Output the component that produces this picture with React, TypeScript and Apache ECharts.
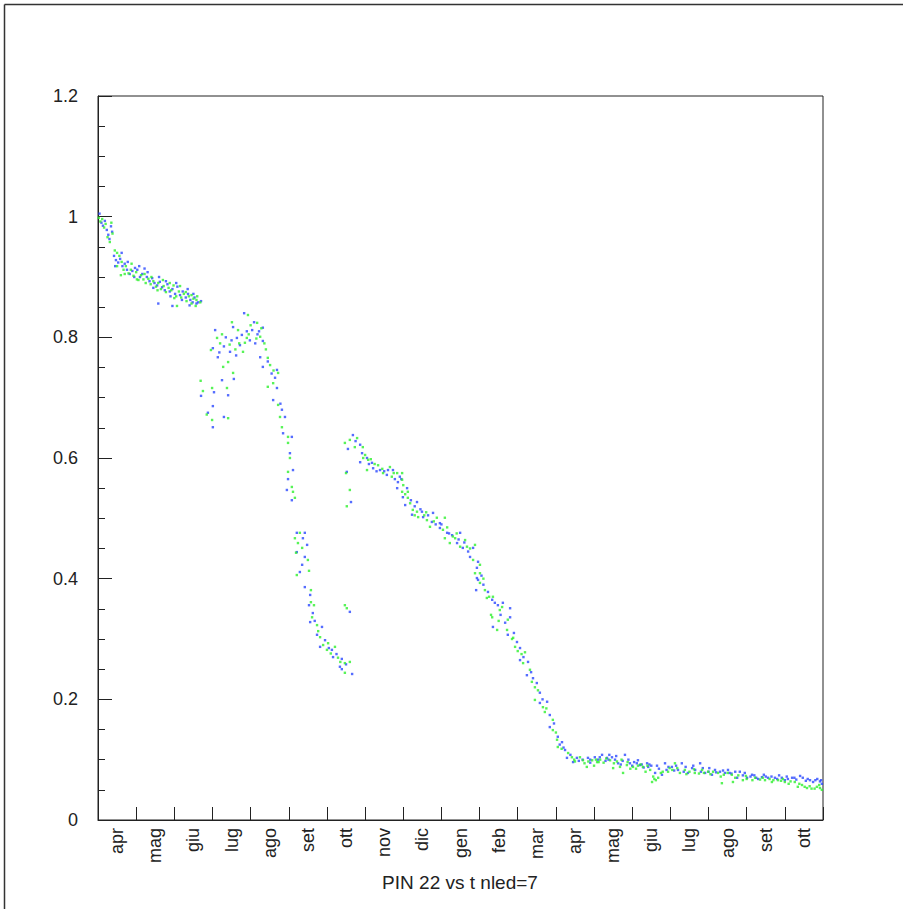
import React, { useEffect, useRef } from "react";
import * as echarts from "echarts";

const months = ["apr", "mag", "giu", "lug", "ago", "set", "ott", "nov", "dic", "gen", "feb", "mar", "apr", "mag", "giu", "lug", "ago", "set", "ott"];
const title = "PIN 22 vs t nled=7";

// [month offset from 1 Apr, normalized value]
const blueA = [[0.04,1.005],[0.09,0.99],[0.13,0.985],[0.18,0.993],[0.23,0.978],[0.27,0.97],[0.3,0.963],[0.34,0.984],[0.37,0.975]];
const greenA = [[0.02,0.998],[0.06,0.992],[0.11,0.996],[0.16,0.982],[0.2,0.988],[0.25,0.966],[0.31,0.958],[0.35,0.99],[0.38,0.972]];

const blueB = [[0.42,0.935],[0.47,0.928],[0.53,0.924],[0.58,0.93],[0.64,0.918],[0.7,0.922],[0.76,0.912],[0.83,0.905],[0.9,0.91],[0.97,0.915],[1.03,0.912],[1.1,0.9],[1.16,0.905],[1.22,0.914],[1.28,0.9],[1.35,0.893],[1.42,0.898],[1.48,0.89],[1.55,0.886],[1.62,0.892],[1.68,0.883],[1.75,0.878],[1.82,0.888],[1.88,0.876],[1.95,0.88],[2.02,0.872],[2.08,0.884],[2.15,0.87],[2.22,0.876],[2.3,0.866],[2.36,0.872],[2.42,0.862],[2.48,0.858],[2.53,0.866],[2.58,0.856],[1.58,0.856],[1.95,0.852],[2.4,0.853],
  [0.45,0.918],[0.62,0.94],[0.78,0.925],[0.95,0.9],[1.08,0.918],[1.3,0.908],[1.45,0.882],[1.6,0.9],[1.78,0.893],[1.9,0.868],[2.05,0.89],[2.2,0.862],[2.35,0.88],[2.5,0.872],[2.62,0.858],[2.7,0.86]];
const greenB = [[0.44,0.944],[0.5,0.918],[0.56,0.935],[0.62,0.925],[0.67,0.912],[0.73,0.918],[0.8,0.906],[0.86,0.912],[0.93,0.902],[1.0,0.908],[1.06,0.895],[1.13,0.903],[1.19,0.896],[1.25,0.89],[1.32,0.897],[1.38,0.888],[1.45,0.893],[1.52,0.884],[1.58,0.89],[1.65,0.88],[1.72,0.885],[1.78,0.875],[1.85,0.882],[1.92,0.878],[1.98,0.886],[2.05,0.868],[2.12,0.876],[2.18,0.866],[2.25,0.872],[2.32,0.86],[2.38,0.868],[2.45,0.856],[2.5,0.864],[2.56,0.852],[2.6,0.868],[0.6,0.903],[2.07,0.852],
  [0.5,0.94],[0.7,0.905],[0.88,0.922],[1.02,0.896],[1.22,0.905],[1.4,0.9],[1.56,0.878],[1.7,0.895],[1.88,0.89],[2.0,0.865],[2.15,0.885],[2.3,0.875],[2.45,0.87],[2.58,0.862],[2.68,0.858]];

const blueC = [[2.7,0.703],[2.88,0.675],[3.01,0.686],[3.01,0.651],[3.04,0.709],[3.07,0.812],[3.01,0.782],[3.14,0.767],[3.25,0.729],[3.41,0.704],[3.56,0.731],[3.46,0.776],[3.54,0.817],[3.83,0.84],[4.09,0.825],[4.32,0.816],[3.77,0.804],[4.04,0.812],[4.32,0.794],[3.72,0.787],[3.64,0.799],[3.3,0.785],[3.5,0.795],[3.9,0.81],[4.18,0.805],[4.25,0.767],[4.32,0.751],[4.69,0.746],[4.64,0.733],[4.69,0.716],[4.59,0.696],[4.82,0.68],[4.9,0.668],[4.85,0.641],[5.08,0.635],[5.03,0.608],[5.11,0.58],[4.98,0.565],[4.95,0.547],[5.08,0.53],[3.3,0.668],[4.45,0.76],[4.55,0.74],[4.78,0.69],
  [3.35,0.8],[3.62,0.77],[3.98,0.795],[4.12,0.79],[4.22,0.81],[3.18,0.775]];
const greenC = [[2.69,0.728],[2.75,0.711],[2.99,0.663],[2.99,0.716],[3.12,0.799],[2.96,0.779],[3.28,0.751],[3.38,0.716],[3.54,0.741],[3.41,0.759],[3.51,0.825],[3.41,0.666],[3.93,0.837],[4.17,0.824],[3.67,0.812],[3.9,0.799],[4.25,0.801],[3.85,0.791],[3.8,0.776],[3.2,0.79],[3.6,0.78],[4.0,0.82],[4.28,0.815],[4.45,0.766],[4.51,0.754],[4.72,0.741],[4.59,0.724],[4.45,0.718],[4.72,0.688],[4.77,0.668],[4.82,0.651],[4.98,0.635],[4.98,0.625],[5.03,0.6],[4.98,0.577],[5.08,0.552],[5.11,0.544],[5.16,0.534],[4.6,0.745],[4.4,0.78],[2.85,0.672],
  [3.25,0.805],[3.7,0.79],[3.95,0.805],[4.15,0.798],[4.36,0.79],[3.45,0.788]];

const blueD = [[5.21,0.476],[5.42,0.476],[5.37,0.467],[5.48,0.456],[5.21,0.444],[5.42,0.436],[5.35,0.423],[5.29,0.411],[5.42,0.386],[5.56,0.373],[5.53,0.356],[5.63,0.343],[5.56,0.328],[5.87,0.32],[5.74,0.307],[5.95,0.298],[5.82,0.287],[6.13,0.282],[6.16,0.27],[6.39,0.267],[6.34,0.254],[6.66,0.242],[6.39,0.25],[6.6,0.345],[6.63,0.527],[6.52,0.577],[6.05,0.285],[6.25,0.275],[6.5,0.258],[5.68,0.33]];
const greenD = [[5.29,0.476],[5.16,0.467],[5.24,0.459],[5.35,0.451],[5.19,0.443],[5.5,0.431],[5.53,0.413],[5.21,0.406],[5.58,0.381],[5.58,0.361],[5.66,0.356],[5.61,0.336],[5.74,0.323],[5.77,0.313],[5.82,0.303],[6.03,0.293],[6.0,0.282],[6.21,0.287],[6.29,0.269],[6.47,0.26],[6.6,0.262],[6.47,0.244],[6.47,0.356],[6.52,0.351],[6.5,0.575],[6.6,0.547],[6.52,0.52],[6.1,0.276],[6.35,0.262],[5.9,0.29]];

const blueE = [[6.68,0.638],[6.87,0.622],[6.55,0.615],[6.92,0.608],[6.87,0.593],[7.18,0.592],[7.21,0.583],[7.39,0.58],[7.57,0.572],[7.73,0.58],[7.91,0.569],[7.78,0.565],[7.86,0.56],[7.84,0.55],[8.1,0.55],[7.99,0.535],[8.05,0.522],[8.36,0.527],[8.23,0.506],[8.49,0.511],[8.52,0.502],[8.78,0.509],[8.75,0.494],[8.96,0.492],[8.96,0.484],[9.15,0.476],[9.28,0.472],[9.49,0.476],[9.41,0.459],[9.56,0.451],[9.83,0.451],[9.75,0.436],[9.96,0.428],[9.93,0.418],[9.93,0.401],[9.96,0.398],[9.91,0.381],[10.22,0.378],[10.33,0.365],[10.48,0.356],[10.61,0.36],[10.8,0.351],[10.35,0.32],[10.67,0.327],[10.8,0.336],[10.74,0.307],[10.98,0.295],[11.06,0.285],[11.06,0.265],[11.27,0.262],[11.24,0.24],[11.5,0.227],[11.58,0.211],[11.58,0.194],[11.77,0.196],[11.84,0.174],[11.84,0.154],[12.05,0.138],[12.16,0.129],[12.24,0.116],[12.29,0.103],[12.55,0.103],[12.45,0.096],[12.84,0.103],[13.02,0.104],[7.05,0.6],[7.5,0.578],[8.3,0.52],[9.0,0.49],[9.6,0.46],[10.1,0.39],[11.4,0.235],[12.1,0.125],
  [6.75,0.628],[7.1,0.59],[7.3,0.578],[7.6,0.58],[7.95,0.565],[8.2,0.53],[8.45,0.515],[8.65,0.505],[8.85,0.49],[9.2,0.475],[9.45,0.465],[9.7,0.445],[10.05,0.405],[10.4,0.36],[10.55,0.34],[10.9,0.31],[11.15,0.27],[11.35,0.245],[11.65,0.2],[11.95,0.16],[12.2,0.12],[12.38,0.108],[12.7,0.1],[12.9,0.095]];
const greenE = [[6.47,0.625],[6.79,0.633],[6.73,0.618],[6.94,0.618],[7.0,0.605],[7.08,0.597],[7.05,0.58],[7.34,0.588],[7.47,0.575],[7.65,0.585],[7.84,0.575],[7.97,0.575],[7.7,0.569],[7.97,0.564],[7.97,0.544],[8.12,0.544],[8.12,0.534],[8.18,0.525],[8.25,0.514],[8.36,0.511],[8.39,0.502],[8.62,0.497],[8.88,0.501],[8.7,0.486],[9.09,0.501],[9.04,0.481],[9.09,0.467],[9.36,0.467],[9.22,0.459],[9.49,0.453],[9.62,0.464],[9.67,0.453],[9.88,0.456],[9.83,0.431],[10.01,0.423],[10.01,0.409],[9.88,0.409],[10.01,0.393],[10.14,0.381],[10.19,0.368],[10.35,0.37],[10.59,0.353],[10.53,0.348],[10.33,0.336],[10.46,0.315],[10.74,0.332],[10.72,0.315],[10.88,0.302],[10.93,0.287],[11.19,0.278],[11.14,0.26],[11.32,0.249],[11.37,0.229],[11.53,0.215],[11.45,0.199],[11.66,0.187],[11.71,0.179],[11.92,0.166],[11.92,0.149],[12.03,0.133],[12.05,0.121],[12.32,0.111],[12.42,0.104],[12.63,0.104],[12.71,0.099],[12.95,0.099],[13.08,0.096],[12.81,0.088],[7.25,0.59],[8.0,0.555],[8.55,0.505],[9.3,0.47],[10.3,0.34],[11.0,0.28],
  [6.6,0.63],[6.95,0.6],[7.15,0.598],[7.45,0.582],[7.75,0.575],[8.05,0.54],[8.3,0.505],[8.6,0.51],[8.8,0.495],[9.15,0.485],[9.4,0.475],[9.75,0.45],[10.1,0.4],[10.25,0.37],[10.5,0.33],[10.85,0.3],[11.1,0.275],[11.45,0.22],[11.75,0.185],[12.0,0.145],[12.15,0.118],[12.48,0.1],[12.85,0.097],[13.05,0.1]];

const blueF = [[13.21,0.108],[13.34,0.103],[13.47,0.104],[13.63,0.094],[13.81,0.108],[13.94,0.094],[14.12,0.094],[14.2,0.091],[14.39,0.094],[14.6,0.078],[14.78,0.075],[14.86,0.094],[15.04,0.088],[15.2,0.083],[15.3,0.094],[15.46,0.078],[15.57,0.086],[15.78,0.094],[15.91,0.078],[16.09,0.075],[16.17,0.083],[16.43,0.078],[16.51,0.083],[16.75,0.07],[16.82,0.08],[17.01,0.07],[17.14,0.075],[17.3,0.068],[17.4,0.071],[17.56,0.07],[17.74,0.07],[17.92,0.07],[18.08,0.068],[18.19,0.07],[18.47,0.07],[18.66,0.066],[18.74,0.063],[18.92,0.064],[18.97,0.06],[13.1,0.1],[13.3,0.098],[13.55,0.1],[13.7,0.092],[14.0,0.09],[14.3,0.087],[14.5,0.09],[14.7,0.085],[14.95,0.088],[15.1,0.082],[15.4,0.088],[15.65,0.083],[15.85,0.086],[16.0,0.08],[16.3,0.08],[16.6,0.077],[16.9,0.074],[17.2,0.074],[17.5,0.072],[17.8,0.068],[18.0,0.066],[18.3,0.067],[18.55,0.065],[18.85,0.068],[12.6,0.098],[12.9,0.1],[13.4,0.108],[14.15,0.099],[14.45,0.092],
  [13.15,0.104],[13.38,0.1],[13.58,0.106],[13.75,0.098],[13.9,0.1],[14.05,0.096],[14.25,0.092],[14.42,0.088],[14.65,0.09],[14.9,0.083],[15.15,0.09],[15.35,0.08],[15.6,0.09],[15.8,0.08],[16.02,0.086],[16.2,0.079],[16.38,0.082],[16.55,0.078],[16.7,0.08],[16.95,0.078],[17.1,0.072],[17.25,0.07],[17.45,0.075],[17.65,0.072],[17.85,0.074],[18.05,0.072],[18.25,0.07],[18.4,0.073],[18.6,0.068],[18.8,0.066],[18.95,0.066]];
const greenF = [[13.16,0.1],[13.42,0.099],[13.5,0.086],[13.68,0.088],[13.76,0.078],[13.86,0.091],[14.02,0.088],[14.28,0.088],[14.47,0.083],[14.52,0.063],[14.68,0.07],[14.94,0.08],[15.12,0.094],[15.38,0.083],[15.64,0.078],[15.83,0.083],[15.99,0.08],[16.25,0.078],[16.35,0.061],[16.61,0.075],[16.64,0.063],[16.9,0.066],[17.22,0.07],[17.48,0.066],[17.66,0.063],[17.82,0.066],[18.0,0.063],[18.26,0.063],[18.34,0.055],[18.58,0.053],[18.84,0.055],[18.97,0.05],[13.25,0.095],[13.6,0.097],[13.95,0.085],[14.15,0.09],[14.35,0.08],[14.58,0.068],[14.8,0.08],[15.05,0.083],[15.25,0.078],[15.5,0.08],[15.75,0.077],[16.05,0.076],[16.4,0.075],[16.7,0.07],[17.0,0.068],[17.35,0.067],[17.6,0.068],[17.9,0.065],[18.1,0.06],[18.45,0.058],[18.7,0.052],[18.9,0.058],[12.5,0.097],[12.75,0.094],[13.0,0.09],
  [13.12,0.096],[13.32,0.102],[13.52,0.094],[13.72,0.1],[13.88,0.096],[14.1,0.085],[14.22,0.092],[14.4,0.09],[14.55,0.072],[14.62,0.066],[14.75,0.078],[14.98,0.086],[15.18,0.086],[15.42,0.076],[15.62,0.084],[15.88,0.078],[16.12,0.08],[16.32,0.072],[16.5,0.078],[16.78,0.074],[16.98,0.073],[17.15,0.066],[17.42,0.07],[17.7,0.066],[17.95,0.068],[18.15,0.064],[18.38,0.06],[18.52,0.055],[18.65,0.056],[18.78,0.052],[18.92,0.053]];

const blueData = [...blueA, ...blueB, ...blueC, ...blueD, ...blueE, ...blueF];
const greenData = [...greenA, ...greenB, ...greenC, ...greenD, ...greenE, ...greenF];

const FONT = '"Liberation Sans", Arial, Helvetica, sans-serif';

export default function App() {
  const ref = useRef<HTMLDivElement>(null);
  useEffect(() => {
    if (!ref.current) return;
    const chart = echarts.init(ref.current, undefined, { renderer: "svg" });
    chart.setOption({
      animation: false,
      backgroundColor: "#ffffff",
      grid: {
        left: 98, top: 96, width: 725, height: 724,
        show: true, borderColor: "#222", borderWidth: 1, backgroundColor: "transparent",
      },
      xAxis: [
        {
          type: "category",
          data: months.map((_, i) => "m" + i),
          boundaryGap: true,
          position: "bottom",
          axisLine: { show: true, lineStyle: { color: "#222", width: 1 } },
          axisTick: { show: true, inside: true, length: 13, interval: 0, lineStyle: { color: "#222" } },
          axisLabel: {
            show: true, interval: 0, rotate: 90, margin: 8, fontSize: 18,
            color: "#222", fontFamily: FONT,
            formatter: (_v: string, i: number) => months[i],
          },
          splitLine: { show: false },
        },
        { type: "value", min: 0, max: 19, show: false, position: "bottom" },
      ],
      yAxis: {
        type: "value", min: 0, max: 1.2, interval: 0.2,
        axisLine: { show: true, lineStyle: { color: "#222", width: 1 } },
        axisTick: { show: true, inside: true, length: 14, lineStyle: { color: "#222" } },
        minorTick: { show: true, splitNumber: 4, length: 7, lineStyle: { color: "#222" } },
        axisLabel: { margin: 20, fontSize: 18, color: "#222", fontFamily: FONT },
        splitLine: { show: false },
      },
      graphic: [
        { type: "line", shape: { x1: 4.5, y1: 4.5, x2: 903, y2: 4.5 }, style: { stroke: "#333", lineWidth: 1.5 } },
        { type: "line", shape: { x1: 4.5, y1: 4.5, x2: 4.5, y2: 909 }, style: { stroke: "#333", lineWidth: 1.5 } },
        {
          type: "text", x: 460, y: 882,
          style: {
            text: title, font: `19px ${FONT}`, fill: "#222",
            textAlign: "center", textVerticalAlign: "middle", align: "center", verticalAlign: "middle",
          },
        },
      ],
      series: [
        {
          name: "blue", type: "scatter", xAxisIndex: 1, yAxisIndex: 0,
          data: blueData, symbol: "rect", symbolSize: 2.4,
          itemStyle: { color: "#2a48ff" },
        },
        {
          name: "green", type: "scatter", xAxisIndex: 1, yAxisIndex: 0,
          data: greenData, symbol: "rect", symbolSize: 2.4,
          itemStyle: { color: "#2ef02e" },
        },
      ],
    });
    return () => chart.dispose();
  }, []);
  return <div ref={ref} style={{ position: "absolute", left: 0, top: 0, width: 903, height: 909 }} />;
}
